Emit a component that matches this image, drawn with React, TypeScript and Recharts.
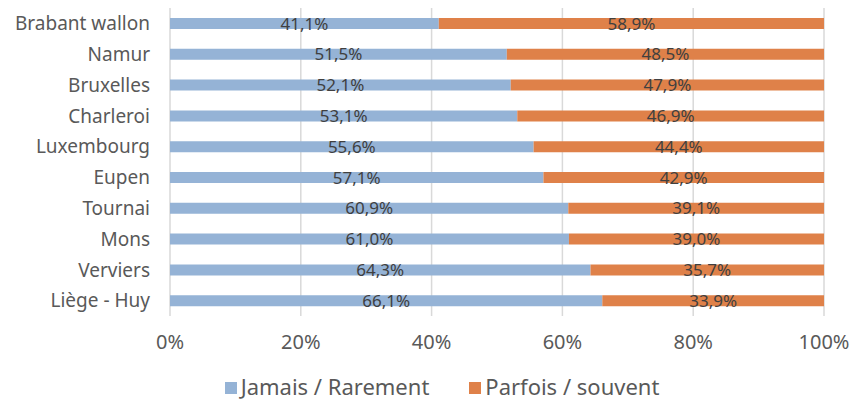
import React from "react";
import { Bar, BarChart, CartesianGrid, LabelList, Legend, XAxis, YAxis } from "recharts";

const regions = [
  "Brabant wallon",
  "Namur",
  "Bruxelles",
  "Charleroi",
  "Luxembourg",
  "Eupen",
  "Tournai",
  "Mons",
  "Verviers",
  "Liège - Huy",
];
const jamais = [41.1, 51.5, 52.1, 53.1, 55.6, 57.1, 60.9, 61.0, 64.3, 66.1];
const parfois = [58.9, 48.5, 47.9, 46.9, 44.4, 42.9, 39.1, 39.0, 35.7, 33.9];
const xTicks = [0, 20, 40, 60, 80, 100];

const BLUE = "#95B3D6";
const ORANGE = "#DF8149";
const FONT = "'Noto Sans', sans-serif";

const fmt = (v: unknown) => `${Number(v).toFixed(1).replace(".", ",")}%`;

function LegendBox() {
  const items = [
    { label: "Jamais / Rarement", color: BLUE },
    { label: "Parfois / souvent", color: ORANGE },
  ];
  return (
    <div
      style={{
        display: "flex",
        justifyContent: "center",
        alignItems: "center",
        gap: 40,
        height: 24,
        paddingLeft: 60,
        fontFamily: FONT,
        fontSize: 22,
        lineHeight: "22px",
        color: "#595959",
      }}
    >
      {items.map((it) => (
        <div key={it.label} style={{ display: "flex", alignItems: "center" }}>
          <span
            style={{ width: 12, height: 12, background: it.color, marginRight: 4, marginTop: 3, display: "inline-block" }}
          />
          <span>{it.label}</span>
        </div>
      ))}
    </div>
  );
}

export default function App() {
  const data = regions.map((name, i) => ({ name, jamais: jamais[i], parfois: parfois[i] }));

  return (
    <div style={{ position: "absolute", left: 0, top: 0, width: 866, height: 401, background: "#fff" }}>
      <BarChart
        width={866}
        height={401}
        data={data}
        layout="vertical"
        margin={{ top: 8, right: 42, bottom: 3, left: 0 }}
        barCategoryGap={0}
      >
        <CartesianGrid horizontal={false} stroke="#D9D9D9" strokeWidth={1.5} />
        <XAxis
          type="number"
          domain={[0, 100]}
          ticks={xTicks}
          tickFormatter={(v) => `${v}%`}
          axisLine={false}
          tickLine={false}
          tickSize={0}
          tickMargin={19}
          height={58}
          tick={{ fill: "#595959", fontSize: 20, fontFamily: FONT }}
        />
        <YAxis
          type="category"
          dataKey="name"
          width={170}
          axisLine={false}
          tickLine={false}
          tickSize={0}
          tickMargin={20}
          interval={0}
          tick={{ fill: "#595959", fontSize: 19, fontFamily: FONT }}
        />
        <Legend verticalAlign="bottom" content={() => <LegendBox />} />
        <Bar dataKey="jamais" stackId="a" fill={BLUE} barSize={11} isAnimationActive={false}>
          <LabelList
            dataKey="jamais"
            position="center"
            formatter={fmt}
            fill="#404040"
            fontSize={17}
            fontFamily={FONT}
          />
        </Bar>
        <Bar dataKey="parfois" stackId="a" fill={ORANGE} barSize={11} isAnimationActive={false}>
          <LabelList
            dataKey="parfois"
            position="center"
            formatter={fmt}
            fill="#404040"
            fontSize={17}
            fontFamily={FONT}
          />
        </Bar>
      </BarChart>
    </div>
  );
}
